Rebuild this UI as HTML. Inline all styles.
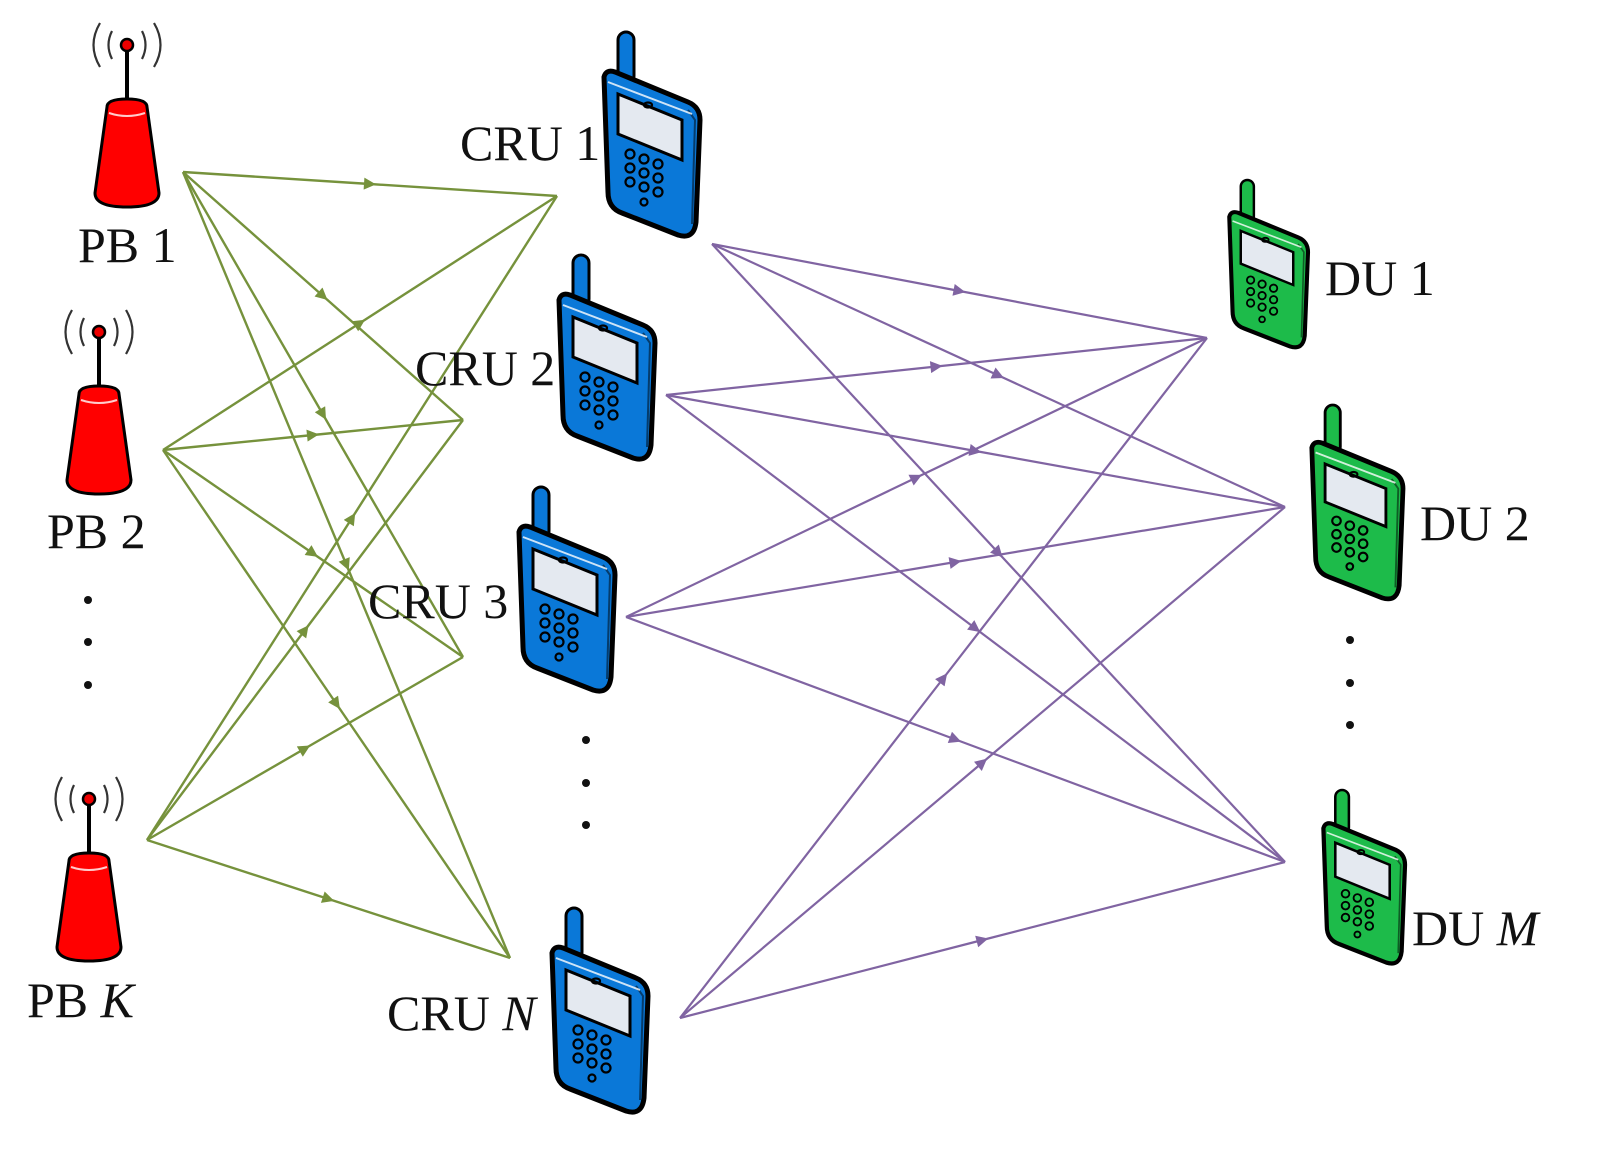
<!DOCTYPE html>
<html><head><meta charset="utf-8"><style>
html,body{margin:0;padding:0;background:#fff}
svg{display:block}
text{font-family:"Liberation Serif",serif;font-size:50px;fill:#111}
</style></head><body>
<svg width="1607" height="1163" viewBox="0 0 1607 1163" xmlns="http://www.w3.org/2000/svg">
<defs>
<marker id="ag" viewBox="0 0 10 10" refX="5" refY="5" markerWidth="15" markerHeight="12" orient="auto" markerUnits="userSpaceOnUse"><path d="M0,0 L10,5 L0,10 Z" fill="#76923c"/></marker>
<marker id="ap" viewBox="0 0 10 10" refX="5" refY="5" markerWidth="15" markerHeight="12" orient="auto" markerUnits="userSpaceOnUse"><path d="M0,0 L10,5 L0,10 Z" fill="#8064a2"/></marker>
<g id="phone">
<rect x="18" y="0" width="16" height="52" rx="8" fill="currentColor" stroke="#000" stroke-width="3"/>
<path d="M4,45 Q6,37 15,40 L88,70 Q100,75 100,88 L96,190 Q94,208 78,203 L22,181 Q8,176 8,160 Z" fill="currentColor" stroke="#000" stroke-width="5"/>
<path d="M88,78 L95,88 L92,192" stroke="#000" stroke-width="2" fill="none" opacity="0.5"/>
<path d="M8,50 L92,82" stroke="#fff" stroke-width="2" fill="none" opacity="0.8"/>
<path d="M18,62 L82,88 L82,128 L18,102 Z" fill="#e4e9f0" stroke="#000" stroke-width="3"/>
<g fill="none" stroke="#000" stroke-width="2.2">
<circle cx="30" cy="122" r="4.5"/><circle cx="44" cy="127" r="4.5"/><circle cx="58" cy="132" r="4.5"/>
<circle cx="30" cy="136" r="4.5"/><circle cx="44" cy="141" r="4.5"/><circle cx="58" cy="146" r="4.5"/>
<circle cx="30" cy="150" r="4.5"/><circle cx="44" cy="155" r="4.5"/><circle cx="58" cy="160" r="4.5"/>
<circle cx="44" cy="170" r="3.5"/><ellipse cx="48" cy="73" rx="4" ry="2.5"/>
</g>
</g>
<g id="tower">
<path d="M-15,-62 Q-22,-48 -15,-34 M15,-62 Q22,-48 15,-34 M-27,-70 Q-40,-48 -27,-26 M27,-70 Q40,-48 27,-26" stroke="#333" stroke-width="2.2" fill="none"/>
<line x1="0" y1="-48" x2="0" y2="12" stroke="#000" stroke-width="4"/>
<circle cx="0" cy="-48" r="6" fill="#e00" stroke="#000" stroke-width="2.5"/>
<path d="M-20,14 Q-20,6 0,6 Q20,6 20,14 L32,100 Q32,114 0,114 Q-32,114 -32,100 Z" fill="#ff0000" stroke="#000" stroke-width="3"/>
<path d="M-18,20 Q0,26 18,20" stroke="#fcc" stroke-width="2" fill="none"/>
</g>
</defs>

<g stroke="#76923c" stroke-width="2.4" fill="none" marker-mid="url(#ag)">
<polyline points="183,172 370,184 557,196"/>
<polyline points="183,172 323,296 463,420"/>
<polyline points="183,172 323,414.5 463,657"/>
<polyline points="183,172 346.5,565 510,958"/>
<polyline points="163,450 360,323 557,196"/>
<polyline points="163,450 313,435 463,420"/>
<polyline points="163,450 313,553.5 463,657"/>
<polyline points="163,450 336.5,704 510,958"/>
<polyline points="147,840 352,518 557,196"/>
<polyline points="147,840 305,630 463,420"/>
<polyline points="147,840 305,748.5 463,657"/>
<polyline points="147,840 328.5,899 510,958"/>
</g>
<g stroke="#8064a2" stroke-width="2.2" fill="none" marker-mid="url(#ap)">
<polyline points="712,244 959.5,291 1207,338"/>
<polyline points="712,244 998.5,375.5 1285,507"/>
<polyline points="712,244 998.5,553 1285,862"/>
<polyline points="666,395 936.5,366.5 1207,338"/>
<polyline points="666,395 975.5,451 1285,507"/>
<polyline points="666,395 975.5,628.5 1285,862"/>
<polyline points="626,617 916.5,477.5 1207,338"/>
<polyline points="626,617 955.5,562 1285,507"/>
<polyline points="626,617 955.5,739.5 1285,862"/>
<polyline points="680,1018 943.5,678 1207,338"/>
<polyline points="680,1018 982.5,762.5 1285,507"/>
<polyline points="680,1018 982.5,940 1285,862"/>
</g>

<use href="#tower" x="127" y="93"/>
<use href="#tower" x="99" y="380"/>
<use href="#tower" x="89" y="847"/>

<g color="#0a78d8">
<use href="#phone" transform="translate(600,32)"/>
<use href="#phone" transform="translate(555,255)"/>
<use href="#phone" transform="translate(515,487)"/>
<use href="#phone" transform="translate(548,908)"/>
</g>
<g color="#1dbb4a">
<use href="#phone" transform="translate(1226,180) scale(0.82)"/>
<use href="#phone" transform="translate(1308,405) scale(0.95)"/>
<use href="#phone" transform="translate(1320,790) scale(0.85)"/>
</g>

<text x="78" y="262">PB 1</text>
<text x="47" y="548">PB 2</text>
<text x="27" y="1017">PB <tspan font-style="italic">K</tspan></text>
<text x="460" y="160">CRU 1</text>
<text x="415" y="385">CRU 2</text>
<text x="368" y="618">CRU 3</text>
<text x="387" y="1030">CRU <tspan font-style="italic">N</tspan></text>
<text x="1325" y="295">DU 1</text>
<text x="1420" y="540">DU 2</text>
<text x="1412" y="945">DU <tspan font-style="italic">M</tspan></text>

<g fill="#111">
<circle cx="88" cy="600" r="4"/><circle cx="88" cy="642" r="4"/><circle cx="88" cy="685" r="4"/>
<circle cx="586" cy="740" r="4"/><circle cx="586" cy="783" r="4"/><circle cx="586" cy="825" r="4"/>
<circle cx="1350" cy="640" r="4"/><circle cx="1350" cy="683" r="4"/><circle cx="1350" cy="725" r="4"/>
</g>
</svg>
</body></html>
